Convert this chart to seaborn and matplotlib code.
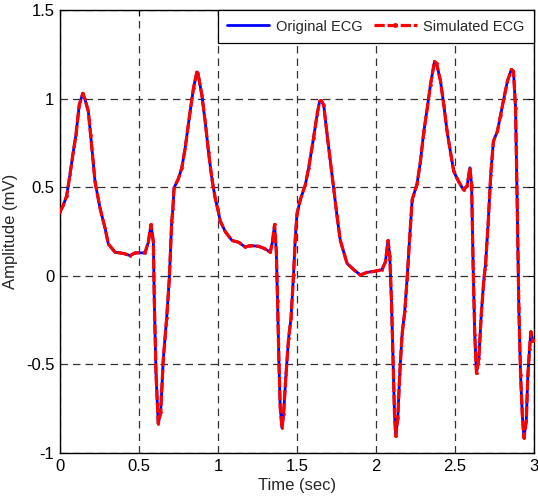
import matplotlib
matplotlib.use("Agg")
import matplotlib.pyplot as plt
import seaborn as sns
import pandas as pd

# ECG samples (time in seconds, amplitude in mV)
time_s = [
    0.0, 0.021, 0.042, 0.063, 0.084, 0.101, 0.122, 0.144, 0.157, 0.179,
    0.194, 0.222, 0.254, 0.285, 0.306, 0.348, 0.411, 0.443, 0.475, 0.538,
    0.559, 0.576, 0.591, 0.597, 0.608, 0.622, 0.637, 0.654, 0.675, 0.692,
    0.707, 0.714, 0.722, 0.75, 0.771, 0.792, 0.824, 0.845, 0.866, 0.873,
    0.898, 0.919, 0.94, 0.961, 0.982, 0.999, 1.014, 1.046, 1.088, 1.13,
    1.172, 1.204, 1.257, 1.30, 1.331, 1.345, 1.358, 1.369, 1.377, 1.386,
    1.394, 1.405, 1.415, 1.43, 1.447, 1.462, 1.478, 1.489, 1.50, 1.521,
    1.553, 1.574, 1.605, 1.627, 1.643, 1.652, 1.669, 1.69, 1.711, 1.732,
    1.753, 1.774, 1.817, 1.859, 1.901, 1.943, 1.985, 2.038, 2.06, 2.076,
    2.087, 2.098, 2.108, 2.117, 2.125, 2.138, 2.15, 2.165, 2.182, 2.197,
    2.214, 2.229, 2.26, 2.281, 2.302, 2.324, 2.345, 2.37, 2.383, 2.408,
    2.429, 2.45, 2.471, 2.492, 2.524, 2.555, 2.577, 2.594, 2.605, 2.615,
    2.625, 2.636, 2.651, 2.666, 2.683, 2.693, 2.709, 2.726, 2.743, 2.768,
    2.789, 2.81, 2.832, 2.857, 2.87, 2.883, 2.894, 2.904, 2.915, 2.926,
    2.936, 2.951, 2.961, 2.972, 2.98, 2.993, 3.0,
]

original_mv = [
    0.36, 0.40, 0.45, 0.57, 0.70, 0.795, 0.965, 1.03, 1.0, 0.93,
    0.795, 0.53, 0.38, 0.27, 0.18, 0.134, 0.125, 0.114, 0.13, 0.13,
    0.19, 0.29, 0.19, -0.147, -0.56, -0.834, -0.77, -0.467, -0.24, -0.015,
    0.305, 0.375, 0.497, 0.55, 0.61, 0.72, 0.93, 1.06, 1.15, 1.145,
    1.02, 0.87, 0.70, 0.55, 0.44, 0.375, 0.31, 0.25, 0.20, 0.19,
    0.163, 0.171, 0.167, 0.152, 0.133, 0.195, 0.29, 0.14, -0.144, -0.50,
    -0.745, -0.858, -0.78, -0.56, -0.35, -0.24, 0.005, 0.21, 0.35, 0.43,
    0.515, 0.61, 0.78, 0.91, 0.985, 0.99, 0.965, 0.80, 0.65, 0.495,
    0.34, 0.2, 0.07, 0.035, 0.005, 0.02, 0.025, 0.035, 0.08, 0.20,
    0.115, -0.145, -0.48, -0.78, -0.905, -0.80, -0.555, -0.33, -0.20, -0.015,
    0.23, 0.43, 0.52, 0.645, 0.81, 0.945, 1.08, 1.21, 1.20, 1.10,
    0.965, 0.815, 0.70, 0.59, 0.53, 0.485, 0.51, 0.61, 0.515, 0.04,
    -0.335, -0.55, -0.465, -0.22, -0.015, 0.06, 0.285, 0.57, 0.76, 0.815,
    0.91, 1.005, 1.10, 1.165, 1.155, 0.95, 0.385, -0.18, -0.56, -0.785,
    -0.915, -0.82, -0.56, -0.41, -0.315, -0.37, -0.36,
]

# The simulated trace follows the recorded one sample for sample
simulated_mv = list(original_mv)

x_ticks = [0, 0.5, 1, 1.5, 2, 2.5, 3]
x_tick_labels = ["0", "0.5", "1", "1.5", "2", "2.5", "3"]
y_ticks = [-1, -0.5, 0, 0.5, 1, 1.5]
y_tick_labels = ["-1", "-0.5", "0", "0.5", "1", "1.5"]

df = pd.DataFrame({"time": time_s, "orig": original_mv, "sim": simulated_mv})

sns.set_style("white")
plt.rcParams["font.family"] = ["Liberation Sans", "DejaVu Sans"]

fig = plt.figure(figsize=(5.38, 5.04), dpi=100)
ax = fig.add_axes([0.1115, 0.101, 0.8811, 0.879])

sns.lineplot(data=df, x="time", y="orig", ax=ax, color="#0000ff", linewidth=2.0,
             sort=False, estimator=None, label="Original ECG", zorder=3)
sns.lineplot(data=df, x="time", y="sim", ax=ax, color="#ff0000", linewidth=2.3,
             linestyle=(0, (3.2, 0.9)), marker=".", markersize=4,
             markeredgecolor="#ff0000", markerfacecolor="#ff0000",
             markeredgewidth=0,
             sort=False, estimator=None, label="Simulated ECG", zorder=4)

ax.set_xlim(0, 3)
ax.set_ylim(-1, 1.5)
ax.set_xticks(x_ticks)
ax.set_xticklabels(x_tick_labels)
ax.set_yticks(y_ticks)
ax.set_yticklabels(y_tick_labels)

ax.grid(True, color="#333333", linestyle=(0, (6, 4)), linewidth=0.9)
ax.set_axisbelow(True)

ax.tick_params(axis="both", direction="in", length=4, width=0.8,
               top=True, right=True, labelsize=12, pad=4, colors="black")
for side in ax.spines.values():
    side.set_color("black")
    side.set_linewidth(1.0)

ax.set_xlabel("Time (sec)", fontsize=12, labelpad=3)
ax.set_ylabel("Amplitude (mV)", fontsize=12, labelpad=6)

leg = ax.legend(loc="upper right", ncol=2, frameon=True, fancybox=False,
                edgecolor="black", framealpha=1, borderaxespad=0,
                handlelength=2.9, columnspacing=0.8, handletextpad=0.45,
                fontsize=10.5, borderpad=0.65)
leg.get_frame().set_linewidth(0.9)
for h in leg.get_lines():
    h.set_markersize(7)

fig.savefig("out.png", dpi=100)
